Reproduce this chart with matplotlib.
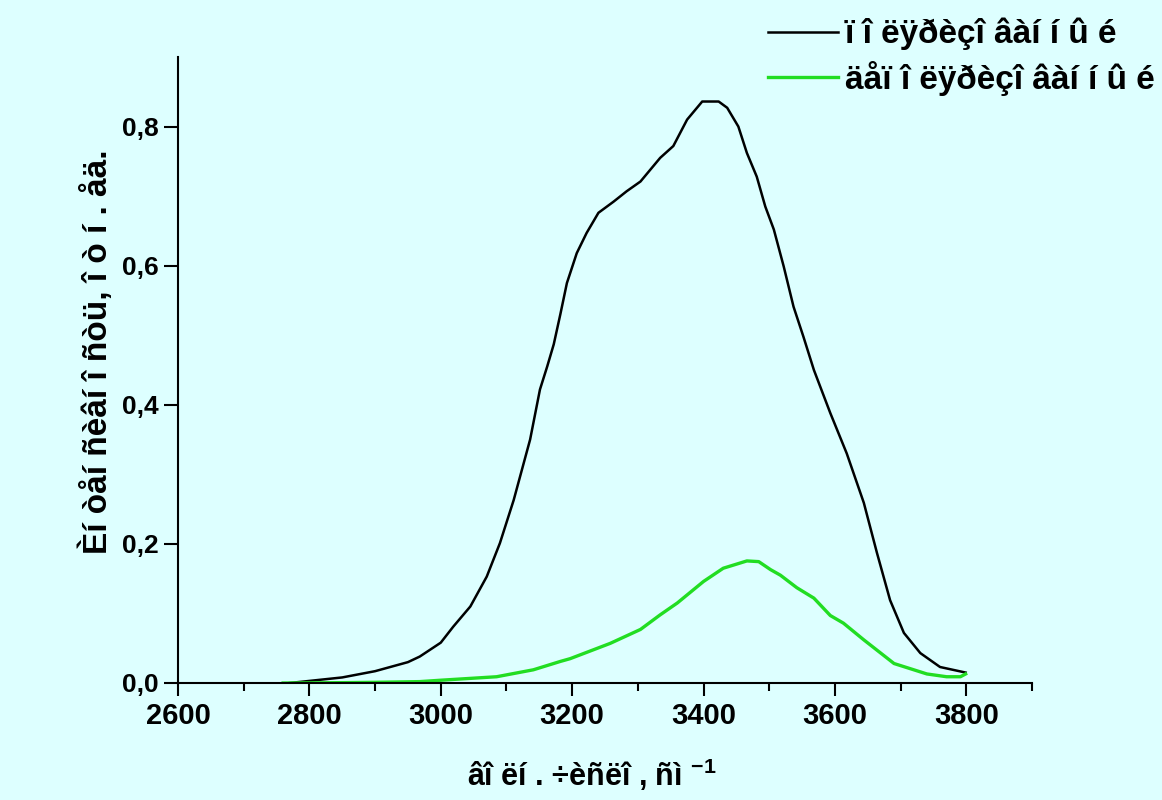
import matplotlib.pyplot as plt
from matplotlib.ticker import MultipleLocator, FuncFormatter

# wavenumber (cm-1) / intensity for the polarized spectrum (black)
pol_x = [2770, 2800, 2850, 2900, 2950, 2968, 3000, 3019, 3045, 3070, 3090, 3111, 3136,
         3151, 3162, 3172, 3182, 3192, 3207, 3222, 3240, 3263, 3283, 3304, 3334, 3354, 3375,
         3398, 3423, 3436, 3453, 3466, 3481, 3494, 3507, 3522, 3537, 3552, 3568,
         3593, 3618, 3644, 3664, 3684, 3705, 3730, 3760, 3799]
pol_y = [0.0, 0.003, 0.008, 0.017, 0.030, 0.038, 0.058, 0.081, 0.110, 0.153, 0.201, 0.263, 0.350,
         0.422, 0.455, 0.487, 0.530, 0.575, 0.618, 0.647, 0.676, 0.692, 0.707, 0.721, 0.755, 0.772,
         0.810, 0.836, 0.836, 0.827, 0.800, 0.762, 0.728, 0.685, 0.652, 0.599, 0.541, 0.498, 0.450,
         0.388, 0.330, 0.259, 0.187, 0.119, 0.072, 0.043, 0.023, 0.015]

# depolarized spectrum (green)
dep_x = [2760, 2850, 2900, 2968, 3000, 3085, 3141, 3182, 3197, 3258, 3304, 3334,
         3360, 3400, 3430, 3466, 3484, 3502, 3517, 3542, 3568, 3593, 3613, 3644,
         3690, 3740, 3770, 3791, 3799]
dep_y = [0.0, 0.0005, 0.001, 0.002, 0.004, 0.009, 0.019, 0.031, 0.035, 0.057, 0.077, 0.098,
         0.115, 0.146, 0.165, 0.1755, 0.1745, 0.163, 0.155, 0.137, 0.122, 0.097, 0.086, 0.062,
         0.028, 0.013, 0.009, 0.009, 0.013]

labels = ['ï î ëÿðèçî âàí í û é', 'äåï î ëÿðèçî âàí í û é']
xlabel = 'âî ëí . ÷èñëî , ñì $^{-1}$'
ylabel = 'Èí òåí ñèâí î ñòü, î ò í . åä.'

bg = '#ddffff'
plt.rcParams['font.family'] = ['Liberation Sans', 'DejaVu Sans']
plt.rcParams['mathtext.fontset'] = 'custom'
plt.rcParams['mathtext.rm'] = 'Liberation Sans:bold'

fig = plt.figure(figsize=(11.62, 8), dpi=100, facecolor=bg)
ax = fig.add_axes([178 / 1162, 1 - 683 / 800, (1032 - 178) / 1162, (683 - 57) / 800])
ax.set_facecolor(bg)

ax.plot(pol_x, pol_y, color='black', lw=1.8, label=labels[0])
ax.plot(dep_x, dep_y, color='#22dd22', lw=2.4, label=labels[1])

ax.set_xlim(2600, 3900)
ax.set_ylim(0, 0.9)
ax.xaxis.set_major_locator(MultipleLocator(200))
ax.xaxis.set_minor_locator(MultipleLocator(100))
ax.yaxis.set_major_locator(MultipleLocator(0.2))
ax.yaxis.set_major_formatter(FuncFormatter(lambda v, p: f'{v:.1f}'.replace('.', ',')))

for s in ['top', 'right']:
    ax.spines[s].set_visible(False)
for s in ['left', 'bottom']:
    ax.spines[s].set_linewidth(1.5)

ax.tick_params(axis='x', which='major', direction='out', length=9, width=1.5,
               labelsize=21, pad=5)
ax.tick_params(axis='x', which='minor', direction='out', length=6, width=1.5)
ax.tick_params(axis='y', which='major', direction='out', length=10, width=1.5,
               labelsize=19, pad=4)
for t in ax.get_xticklabels() + ax.get_yticklabels():
    t.set_fontweight('bold')

fig.text(592 / 1162, 1 - 775 / 800, xlabel, ha='center', va='center',
         fontsize=22, fontweight='bold')
fig.text(97 / 1162, 1 - 352 / 800, ylabel, ha='center', va='center',
         rotation=90, fontsize=24, fontweight='bold')

leg = fig.legend(loc='upper left', bbox_to_anchor=(768 / 1162, 1 - 18 / 800),
                 frameon=False, borderpad=0, borderaxespad=0,
                 handlelength=2.1, handletextpad=0.2, labelspacing=0.3,
                 prop={'size': 24, 'weight': 'bold'})

fig.savefig('out.png', dpi=100, facecolor=bg)
